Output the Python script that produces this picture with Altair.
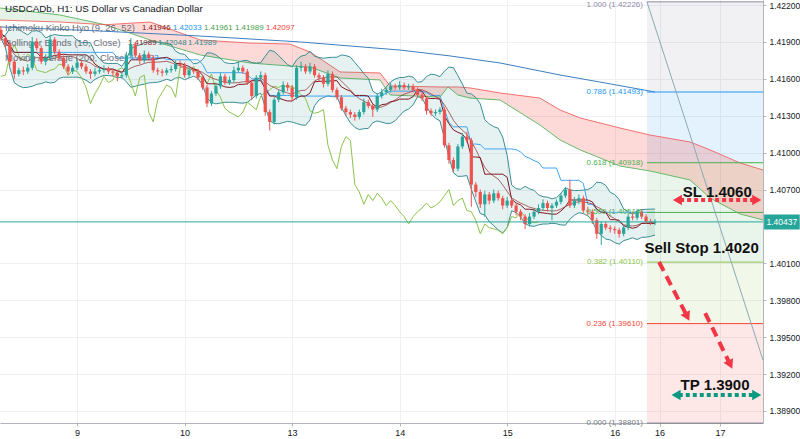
import altair as alt
import pandas as pd

# ---------------- data ----------------
bar_t = list(range(-17, 130))          # hourly bar index, 0 = start of day 9
first_open = 1.4200
close = [1.4193, 1.4188, 1.4174, 1.4164, 1.4167, 1.4166, 1.4169, 1.4190, 1.4185, 1.4174, 1.4177, 1.4192, 1.4182, 1.4177, 1.4170, 1.4166, 1.4169,
         1.4173, 1.4170, 1.4166, 1.4164, 1.4166, 1.4167, 1.4168, 1.4166, 1.4165, 1.4162,
         1.4163, 1.4179, 1.4188, 1.4179, 1.4175, 1.4180, 1.4177, 1.4167, 1.4166, 1.4165,
         1.4167, 1.4168, 1.4172, 1.4171, 1.4163, 1.4167, 1.4166, 1.4161, 1.4153, 1.4140,
         1.4148, 1.4154, 1.4162, 1.4157, 1.4159, 1.4167, 1.4169, 1.4166, 1.4157, 1.4146,
         1.4161, 1.4163, 1.4133, 1.4125, 1.4143, 1.4149, 1.4155, 1.4153, 1.4145, 1.4169,
         1.4170, 1.4166, 1.4170, 1.4163, 1.4161, 1.4156, 1.4164, 1.4151, 1.4145, 1.4136,
         1.4133, 1.4131, 1.4129, 1.4133, 1.4141, 1.4138, 1.4135, 1.4146, 1.4149, 1.4151,
         1.4154, 1.4153, 1.4155, 1.4153, 1.4154, 1.4151, 1.4147, 1.4144, 1.4134, 1.4132,
         1.4133, 1.4135, 1.4106, 1.4094, 1.4087, 1.4105, 1.4113, 1.4110, 1.4074, 1.4068,
         1.4058, 1.4066, 1.4061, 1.4067, 1.4063, 1.4057, 1.4061, 1.4057, 1.4052, 1.4048,
         1.4042, 1.4048, 1.4052, 1.4055, 1.4059, 1.4055, 1.4057, 1.4060, 1.4065, 1.4070,
         1.4057, 1.4061, 1.4063, 1.4053, 1.4052, 1.4045, 1.4034, 1.4042, 1.4039, 1.4038,
         1.4037, 1.4034, 1.4039, 1.4048, 1.4047, 1.4052, 1.4048, 1.4044, 1.4043, 1.40437]
high = [1.4203, 1.4195, 1.4190, 1.4176, 1.4169, 1.4170, 1.4172, 1.4194, 1.4193, 1.4187, 1.4180, 1.4196, 1.4194, 1.4184, 1.4179, 1.4172, 1.4171,
        1.4176, 1.4175, 1.4172, 1.4168, 1.4169, 1.4170, 1.4171, 1.4170, 1.4168, 1.4167,
        1.4166, 1.4182, 1.4193, 1.4190, 1.4181, 1.4183, 1.4182, 1.4179, 1.4169, 1.4168,
        1.4169, 1.4171, 1.4175, 1.4175, 1.4173, 1.4170, 1.4169, 1.4168, 1.4163, 1.4155,
        1.4150, 1.4157, 1.4165, 1.4164, 1.4162, 1.4170, 1.4174, 1.4171, 1.4168, 1.4159,
        1.4163, 1.4166, 1.4165, 1.4135, 1.4145, 1.4151, 1.4158, 1.4157, 1.4155, 1.4171,
        1.4174, 1.4172, 1.4173, 1.4172, 1.4165, 1.4163, 1.4167, 1.4166, 1.4153, 1.4147,
        1.4138, 1.4135, 1.4133, 1.4135, 1.4144, 1.4143, 1.4140, 1.4148, 1.4152, 1.4153,
        1.4157, 1.4156, 1.4158, 1.4157, 1.4156, 1.4156, 1.4153, 1.4149, 1.4146, 1.4136,
        1.4135, 1.4137, 1.4137, 1.4108, 1.4096, 1.4107, 1.4116, 1.4117, 1.4112, 1.4076,
        1.4070, 1.4069, 1.4068, 1.4070, 1.4069, 1.4065, 1.4064, 1.4063, 1.4059, 1.4054,
        1.4050, 1.4051, 1.4054, 1.4058, 1.4062, 1.4061, 1.4059, 1.4062, 1.4067, 1.4072,
        1.4078, 1.4064, 1.4066, 1.4065, 1.4056, 1.4054, 1.4047, 1.4044, 1.4044, 1.4041,
        1.4040, 1.4039, 1.4041, 1.4050, 1.4052, 1.4054, 1.4054, 1.4050, 1.4046, 1.4046]
low = [1.4191, 1.4185, 1.4171, 1.4160, 1.4162, 1.4163, 1.4164, 1.4167, 1.4183, 1.4172, 1.4171, 1.4175, 1.4180, 1.4175, 1.4168, 1.4163, 1.4164,
       1.4167, 1.4168, 1.4164, 1.4160, 1.4162, 1.4164, 1.4165, 1.4164, 1.4162, 1.4158,
       1.4160, 1.4161, 1.4177, 1.4177, 1.4172, 1.4173, 1.4175, 1.4165, 1.4163, 1.4162,
       1.4163, 1.4165, 1.4166, 1.4169, 1.4161, 1.4161, 1.4164, 1.4159, 1.4151, 1.4137,
       1.4138, 1.4146, 1.4152, 1.4155, 1.4155, 1.4157, 1.4165, 1.4164, 1.4155, 1.4143,
       1.4144, 1.4159, 1.4130, 1.4118, 1.4123, 1.4141, 1.4147, 1.4150, 1.4142, 1.4143,
       1.4166, 1.4164, 1.4164, 1.4161, 1.4158, 1.4153, 1.4154, 1.4149, 1.4143, 1.4134,
       1.4130, 1.4128, 1.4126, 1.4127, 1.4131, 1.4136, 1.4129, 1.4133, 1.4144, 1.4147,
       1.4149, 1.4151, 1.4151, 1.4151, 1.4151, 1.4149, 1.4145, 1.4142, 1.4131, 1.4130,
       1.4130, 1.4131, 1.4104, 1.4091, 1.4084, 1.4085, 1.4103, 1.4108, 1.4056, 1.4064,
       1.4055, 1.4048, 1.4058, 1.4059, 1.4061, 1.4054, 1.4055, 1.4055, 1.4049, 1.4045,
       1.4038, 1.4040, 1.4046, 1.4050, 1.4053, 1.4052, 1.4045, 1.4055, 1.4058, 1.4063,
       1.4055, 1.4055, 1.4058, 1.4051, 1.4049, 1.4042, 1.4030, 1.4025, 1.4037, 1.4035,
       1.4034, 1.4031, 1.4032, 1.4037, 1.4045, 1.4045, 1.4046, 1.4042, 1.4041, 1.4041]

ma200_t = [-17.2, 5.1, 27.5, 49.8, 72.1, 83.3, 94.4, 107.8, 116.7, 129.0]
ma200 = [1.42022, 1.41989, 1.41948, 1.41900, 1.41834, 1.41786, 1.41729, 1.41631, 1.41574, 1.41493]

cloud_t = [-17.2, -3.8, 6.3, 16.3, 27.5, 38.6, 47.5, 52.0, 58.7, 67.6, 69.9, 81.0, 82.8, 85.0,
           87.7, 94.4, 103.3, 107.8, 112.3, 121.2, 127.9, 136.8, 141.3, 148.0, 153.1]
span_a = [1.42176, 1.42119, 1.42040, 1.41916, 1.41794, 1.41729, 1.41704, 1.41696, 1.41607, 1.41591,
          1.41469, 1.41452, 1.41534, 1.41469, 1.41444, 1.41428, 1.41225, 1.41103, 1.41022, 1.40891,
          1.40851, 1.40778, 1.40631, 1.40501, 1.40453]
span_b = [1.42078, 1.42062, 1.42040, 1.42062, 1.41916, 1.41891, 1.41883, 1.41818, 1.41656, 1.41648,
          1.41542, 1.41534, 1.41534, 1.41534, 1.41526, 1.41485, 1.41444, 1.41347, 1.41282, 1.41200,
          1.41143, 1.41087, 1.41022, 1.40916, 1.40859]
cloud_cross_t = 6.3

fib_ratio = ["1.000", "0.786", "0.618", "0.500", "0.382", "0.236", "0.000"]
fib_price = [1.42226, 1.41493, 1.40918, 1.40514, 1.40110, 1.39610, 1.38801]
fib_color = ["#8f8aa8", "#2196f3", "#4caf50", "#4caf50", "#8bc34a", "#f44336", "#787b86"]
fib_zone_color = ["#8c8f99", "#2196f3", "#4caf50", "#4caf50", "#8bc34a", "#f44336"]
fib_t = [127.2, 153.1]

last_price = 1.40437
trend_t = [127.2, 153.1]
trend_p = [1.42226, 1.39314]

day_tick_t = [0, 24, 48, 72, 96, 120, 130, 143.5]
day_tick_label = ["9", "10", "13", "14", "15", "16", "16", "17"]
# 1.40400 sits under the last-price tag in the reference, so it is not drawn
price_ticks = [1.389, 1.392, 1.395, 1.398, 1.401, 1.407, 1.410, 1.413, 1.416, 1.419, 1.422]

# ---------------- tables ----------------
opens = [first_open] + close[:-1]
bars = pd.DataFrame({"t": bar_t, "open": opens, "high": high, "low": low, "close": close})
ma_df = pd.DataFrame({"t": ma200_t, "ma": ma200})
cloud_df = pd.DataFrame({"t": cloud_t, "a": span_a, "b": span_b})
zones = pd.DataFrame({
    "t0": fib_t[0], "t1": fib_t[1],
    "p_hi": fib_price[:-1], "p_lo": fib_price[1:], "c": fib_zone_color})
levels = pd.DataFrame({"t0": fib_t[0], "t1": fib_t[1], "p": fib_price, "c": fib_color,
                       "top": [i == 0 for i in range(len(fib_price))],
                       "lab": [f"{r} ({p:.5f})" for r, p in zip(fib_ratio, fib_price)]})
trend_df = pd.DataFrame({"t": trend_t, "p": trend_p})

XD = [-17.2, 153.1]
YD = [1.38802, 1.42241]
xs = alt.Scale(domain=XD, nice=False, zero=False)
ys = alt.Scale(domain=YD, nice=False, zero=False)
FONT = "Liberation Sans"

label_expr = " : ".join(f"datum.value == {v} ? '{l}'" for v, l in zip(day_tick_t, day_tick_label)) + " : ''"
x_axis = alt.Axis(values=day_tick_t, labelExpr=label_expr, title=None, grid=True, gridColor="#eef0f4",
                  domainColor="#b2b5be", tickColor="#b2b5be", tickSize=3, labelFontSize=9,
                  labelColor="#131722", labelPadding=2, labelFont=FONT, labelOverlap=False, labelFlush=False)
y_axis = alt.Axis(orient="right", values=price_ticks, format=".5f", title=None, grid=True, gridColor="#eef0f4",
                  domainColor="#b2b5be", tickColor="#b2b5be", tickSize=3, labelFontSize=8.5,
                  labelColor="#131722", labelPadding=3, labelFont=FONT, labelOverlap=False)


def X(f):
    return alt.X(f, scale=xs, axis=x_axis)


def Y(f):
    return alt.Y(f, scale=ys, axis=y_axis)


# fib zones
fz = alt.Chart(zones).mark_rect(opacity=0.12).encode(
    x=X("t0:Q"), x2="t1:Q", y=Y("p_lo:Q"), y2="p_hi:Q", color=alt.Color("c:N", scale=None))

# ichimoku cloud
cl = alt.Chart(cloud_df)
cloud_g = cl.transform_filter(f"datum.t <= {cloud_cross_t}").mark_area(color="#4caf50", opacity=0.15).encode(
    x=X("t:Q"), y=Y("a:Q"), y2="b:Q")
cloud_r = cl.transform_filter(f"datum.t >= {cloud_cross_t}").mark_area(color="#f44336", opacity=0.2).encode(
    x=X("t:Q"), y=Y("a:Q"), y2="b:Q")
span_a_line = cl.mark_line(color="#66bb6a", strokeWidth=1).encode(x=X("t:Q"), y=Y("a:Q"))
span_b_line = cl.mark_line(color="#ef5350", strokeWidth=1, opacity=0.8).encode(x=X("t:Q"), y=Y("b:Q"))

base = alt.Chart(bars)
srt = [alt.SortField("t", order="ascending")]

# bollinger bands (10, close)
bb = base.transform_window(bb_mid="mean(close)", bb_sd="stdevp(close)", frame=[-9, 0], sort=srt) \
    .transform_calculate(bb_up="datum.bb_mid + 2*datum.bb_sd", bb_lo="datum.bb_mid - 2*datum.bb_sd")
bb_fill = bb.mark_area(color="#2e8b8b", opacity=0.12).encode(x=X("t:Q"), y=Y("bb_up:Q"), y2="bb_lo:Q")
bb_up = bb.mark_line(color="#3a8f94", strokeWidth=1).encode(x=X("t:Q"), y=Y("bb_up:Q"))
bb_lo = bb.mark_line(color="#3a8f94", strokeWidth=1).encode(x=X("t:Q"), y=Y("bb_lo:Q"))
bb_mid = bb.mark_line(color="#8b2a2a", strokeWidth=1, opacity=0.7).encode(x=X("t:Q"), y=Y("bb_mid:Q"))

# moving average 200
ma_line = alt.Chart(ma_df).mark_line(color="#3d7fc1", strokeWidth=1).encode(x=X("t:Q"), y=Y("ma:Q"))

# ichimoku lines
ichi = base.transform_window(hh9="max(high)", ll9="min(low)", frame=[-8, 0], sort=srt) \
    .transform_window(hh26="max(high)", ll26="min(low)", frame=[-25, 0], sort=srt) \
    .transform_calculate(tenkan="(datum.hh9 + datum.ll9)/2", kijun="(datum.hh26 + datum.ll26)/2")
kijun = ichi.mark_line(color="#42a5f5", strokeWidth=1).encode(x=X("t:Q"), y=Y("kijun:Q"))
tenkan = ichi.mark_line(color="#801922", strokeWidth=1).encode(x=X("t:Q"), y=Y("tenkan:Q"))
chikou = base.transform_calculate(tc="datum.t - 26").transform_filter(f"datum.tc >= {XD[0]}") \
    .mark_line(color="#8bc34a", strokeWidth=1).encode(x=X("tc:Q"), y=Y("close:Q"))


# legend texts
def txt(s, x, y, color, size=9.5):
    return alt.Chart(pd.DataFrame({"s": [s]})).mark_text(
        align="left", baseline="middle", font=FONT, fontSize=size, color=color).encode(
        x=alt.value(x), y=alt.value(y), text="s:N")


legend = [
    txt("USDCADb, H1: US Dollar vs Canadian Dollar", 5, 9, "#131722", 9.8),
    txt("Ichimoku Kinko Hyo (9, 26, 52)", 5, 28, "#6a6d78", 9.5),
    txt("1.41946", 142, 28, "#801922", 7.9), txt("1.42033", 173, 28, "#2196f3", 7.9),
    txt("1.41961", 204, 28, "#43a047", 7.9), txt("1.41989", 235, 28, "#43a047", 7.9),
    txt("1.42097", 266, 28, "#f44336", 7.9),
    txt("Bollinger Bands (10, Close)", 5, 43, "#6a6d78", 9.5),
    txt("1.41989", 128, 43, "#872323", 7.9), txt("1.42048", 158, 43, "#2e8b8b", 7.9),
    txt("1.41989", 188, 43, "#2e8b8b", 7.9),
    txt("Moving Average (200, Close)", 5, 58, "#6a6d78", 9.5),
    txt("1.42022", 130, 58, "#3d7fc1", 7.9),
]

# candles
updown = alt.condition("datum.close >= datum.open", alt.value("#26a69a"), alt.value("#ef5350"))
wick = base.mark_rule(strokeWidth=1).encode(x=X("t:Q"), y=Y("low:Q"), y2="high:Q", color=updown)
body = base.transform_calculate(t0="datum.t - 0.36", t1="datum.t + 0.36").mark_bar().encode(
    x=X("t0:Q"), x2="t1:Q", y=Y("open:Q"), y2="close:Q", color=updown)

# fib level lines and labels
lv = alt.Chart(levels)
lv_lines = lv.mark_rule(strokeWidth=1).encode(x=X("t0:Q"), x2="t1:Q", y=Y("p:Q"), color=alt.Color("c:N", scale=None))
lv_text = lv.transform_filter("!datum.top").mark_text(
    align="right", baseline="middle", font=FONT, fontSize=8, dx=-4).encode(
    x=X("t0:Q"), y=Y("p:Q"), text="lab:N", color=alt.Color("c:N", scale=None))
lv_text_top = lv.transform_filter("datum.top").mark_text(
    align="right", baseline="top", font=FONT, fontSize=8, dx=-4, dy=-1).encode(
    x=X("t0:Q"), y=Y("p:Q"), text="lab:N", color=alt.Color("c:N", scale=None))

# last price line + axis tag
lp = alt.Chart(pd.DataFrame({"p": [last_price], "t0": [XD[0]], "t1": [XD[1]],
                             "b0": [153.35], "b1": [161.3], "lo": [last_price - 0.00061],
                             "hi": [last_price + 0.00061], "tm": [157.3], "s": [f"{last_price:.5f}"]}))
lp_line = lp.mark_rule(color="#26a69a", strokeWidth=1).encode(x=X("t0:Q"), x2="t1:Q", y=Y("p:Q"))
lp_box = lp.mark_rect(color="#26a69a").encode(x=X("b0:Q"), x2="b1:Q", y=Y("lo:Q"), y2="hi:Q")
lp_txt = lp.mark_text(color="white", font=FONT, fontSize=8.5, baseline="middle").encode(
    x=X("tm:Q"), y=Y("p:Q"), text="s:N")

# trend line
trend = alt.Chart(trend_df).mark_line(color="#8aaab5", strokeWidth=1).encode(x=X("t:Q"), y=Y("p:Q"))

# annotations
ann = alt.Chart(pd.DataFrame({"s": ["SL 1.4060", "Sell Stop 1.4020", "TP 1.3900"],
                              "t": [142.9, 139.4, 142.4], "p": [1.40682, 1.40225, 1.39111]}))
ann_txt = ann.mark_text(font=FONT, fontSize=15, fontWeight="bold", color="#111111", baseline="middle").encode(
    x=X("t:Q"), y=Y("p:Q"), text="s:N")


def seg(ts, ps, color, dash, width):
    return alt.Chart(pd.DataFrame({"t": ts, "p": ps})).mark_line(
        color=color, strokeDash=dash, strokeWidth=width).encode(x=X("t:Q"), y=Y("p:Q"))


def head(t, p, shape, color, angle=0, size=110):
    return alt.Chart(pd.DataFrame({"t": [t], "p": [p]})).mark_point(
        shape=shape, filled=True, color=color, size=size, angle=angle, opacity=1).encode(x=X("t:Q"), y=Y("p:Q"))


RED = "#f23645"
GRN = "#089981"
arrows = [
    seg([134.6, 151.0], [1.40615, 1.40615], RED, [4, 3], 4),
    head(134.0, 1.40615, "triangle-left", RED), head(151.7, 1.40615, "triangle-right", RED),
    seg([134.3, 151.0], [1.39030, 1.39030], GRN, [4, 3], 4),
    head(133.7, 1.39030, "triangle-left", GRN), head(151.7, 1.39030, "triangle-right", GRN),
    seg([129.9, 135.8], [1.40111, 1.39695], RED, [10, 6], 4),
    head(136.2, 1.39666, "triangle-up", RED, angle=153),
    seg([140.2, 145.4], [1.39696, 1.39306], RED, [10, 6], 4),
    head(145.8, 1.39277, "triangle-up", RED, angle=154),
]

chart = alt.layer(
    fz, cloud_g, cloud_r, span_a_line, span_b_line,
    bb_fill, bb_up, bb_lo, ma_line, chikou, kijun, bb_mid, tenkan,
    *legend,
    wick, body,
    lv_lines, lv_text, lv_text_top, lp_line, lp_box, lp_txt, trend,
    ann_txt, *arrows,
).properties(
    width=763, height=423,
    autosize=alt.AutoSizeParams(type="none"),
    padding={"left": 0, "top": 0, "right": 37, "bottom": 16},
    background="white",
).configure_view(stroke=None)

chart.save("out.html", embed_options={"renderer": "svg", "actions": False})
